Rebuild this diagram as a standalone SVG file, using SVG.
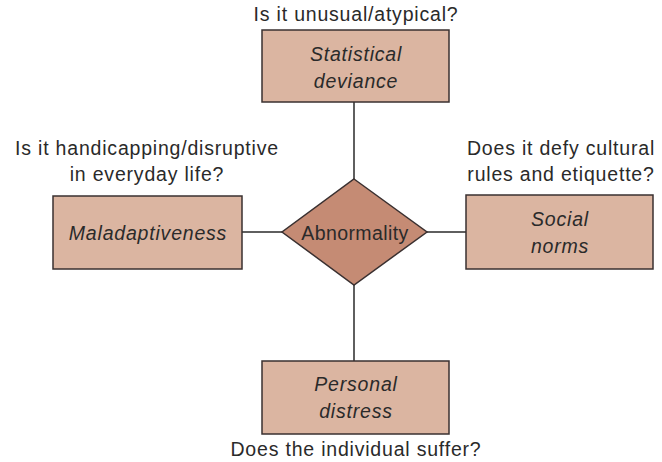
<svg xmlns="http://www.w3.org/2000/svg" width="662" height="462" viewBox="0 0 662 462">
<style>
.box{fill:#dbb5a1;stroke:#3a3030;stroke-width:1.5}
.dia{fill:#c58b74;stroke:#3a3030;stroke-width:1.5}
.ln{stroke:#2a2a2a;stroke-width:1.5;fill:none}
text{font-family:"Liberation Sans",Arial,sans-serif;font-size:19.5px;letter-spacing:0.8px;fill:#2a2a2a;text-anchor:middle}
.it{font-style:italic}
</style>
<rect width="662" height="462" fill="#fff"/>
<g id="connectors">
<line class="ln" x1="354" y1="102" x2="354" y2="179"/>
<line class="ln" x1="354" y1="285" x2="354" y2="361"/>
<line class="ln" x1="242" y1="232" x2="282" y2="232"/>
<line class="ln" x1="427" y1="232" x2="466" y2="232"/>
</g>
<g id="statistical">
<rect class="box" x="262" y="30" width="187" height="72"/>
<text class="it" x="356" y="61">Statistical</text>
<text class="it" x="356" y="88">deviance</text>
</g>
<g id="maladaptiveness">
<rect class="box" x="53" y="196" width="189" height="73"/>
<text class="it" x="148" y="240">Maladaptiveness</text>
</g>
<g id="social">
<rect class="box" x="466" y="195" width="187" height="74"/>
<text class="it" x="560" y="226">Social</text>
<text class="it" x="560" y="253">norms</text>
</g>
<g id="personal">
<rect class="box" x="262" y="361" width="187" height="73"/>
<text class="it" x="356" y="391">Personal</text>
<text class="it" x="356" y="418">distress</text>
</g>
<g id="abnormality">
<polygon class="dia" points="354,179 427,232 354,285 282,232"/>
<text x="355" y="240" style="letter-spacing:0.4px">Abnormality</text>
</g>
<g id="labels">
<text x="356" y="21">Is it unusual/atypical?</text>
<text x="147" y="155">Is it handicapping/disruptive</text>
<text x="147" y="181">in everyday life?</text>
<text x="561" y="155">Does it defy cultural</text>
<text x="561" y="181">rules and etiquette?</text>
<text x="356" y="456">Does the individual suffer?</text>
</g>
</svg>
